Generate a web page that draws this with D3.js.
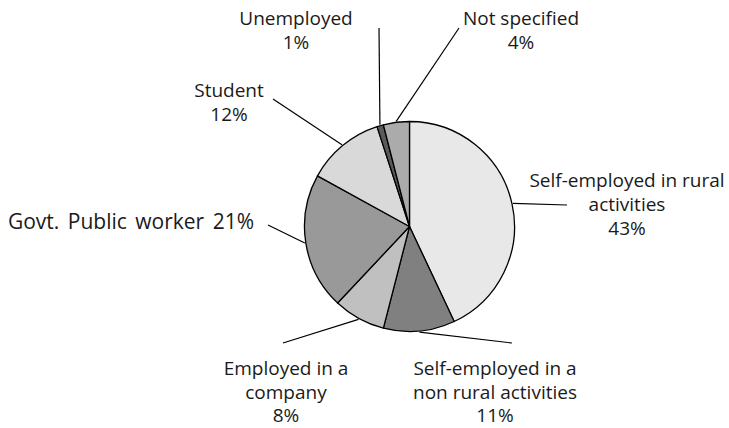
<!DOCTYPE html>
<html>
<head>
<meta charset="utf-8">
<script src="https://cdn.jsdelivr.net/npm/d3@7"></script>
<style>
  html, body { margin: 0; padding: 0; background: #fff; }
  svg text { font-family: 'Open Sans', Lato, sans-serif; fill: #1a1a1a; }
</style>
</head>
<body>
<div id="chart"></div>
<script>
// data, clockwise from 12 o'clock
const categories = ['Self-employed in rural activities', 'Self-employed in a non rural activities', 'Employed in a company', 'Govt. Public worker', 'Student', 'Unemployed', 'Not specified'];
const shares = [43, 11, 8, 21, 12, 1, 4];

// label layout: text lines, text anchor point (first baseline), leader end point
const LAYOUT = [
  { lines: ['Self-employed in rural', 'activities', '43%'], tx: 627, ty: 187, end: [567, 205] },
  { lines: ['Self-employed in a', 'non rural activities', '11%'], tx: 495, ty: 375, end: [512, 343], lh: 23.5 },
  { lines: ['Employed in a', 'company', '8%'], tx: 286, ty: 375, end: [283, 343], lh: 23.5 },
  { lines: ['Govt. Public worker 21%'], tx: 131, ty: 229, end: [268, 225], size: 21, ws: 3 },
  { lines: ['Student', '12%'], tx: 229, ty: 97, end: [273, 99] },
  { lines: ['Unemployed', '1%'], tx: 296, ty: 25, end: [379, 28] },
  { lines: ['Not specified', '4%'], tx: 521, ty: 25, end: [459, 28] }
];
const FILLS = ['#e8e8e8', '#808080', '#c0c0c0', '#999999', '#d9d9d9', '#5a5a5a', '#ababab'];

const W = 729, H = 428, cx = 409.5, cy = 226.5, R = 105;
const svg = d3.select('#chart').append('svg').attr('width', W).attr('height', H);

const rows = categories.map((c, i) => ({ name: c, value: shares[i], i }));
const pie = d3.pie().value(d => d.value).sort(null);
const arcs = pie(rows);
const arc = d3.arc().innerRadius(0).outerRadius(R);

const g = svg.append('g').attr('transform', `translate(${cx},${cy})`);
g.selectAll('path').data(arcs).enter().append('path')
  .attr('d', arc).attr('fill', d => FILLS[d.data.i])
  .attr('stroke', '#000').attr('stroke-width', 1.3).attr('stroke-linejoin', 'round');

// leader lines from slice mid-angle on the rim
svg.append('g').selectAll('line').data(arcs).enter().append('line')
  .attr('x1', d => cx + (R + 1) * Math.sin((d.startAngle + d.endAngle) / 2))
  .attr('y1', d => cy - (R + 1) * Math.cos((d.startAngle + d.endAngle) / 2))
  .attr('x2', d => LAYOUT[d.data.i].end[0]).attr('y2', d => LAYOUT[d.data.i].end[1])
  .attr('stroke', '#000').attr('stroke-width', 1.2);

const lab = svg.append('g').selectAll('text').data(arcs).enter().append('text')
  .attr('text-anchor', 'middle')
  .style('font-size', d => (LAYOUT[d.data.i].size || 19) + 'px')
  .style('word-spacing', d => (LAYOUT[d.data.i].ws || 0) + 'px')
  .attr('x', d => LAYOUT[d.data.i].tx).attr('y', d => LAYOUT[d.data.i].ty);
lab.each(function (d) {
  const L = LAYOUT[d.data.i];
  d3.select(this).selectAll('tspan').data(L.lines).enter().append('tspan')
    .attr('x', L.tx).attr('dy', (t, k) => k === 0 ? 0 : (L.lh || 24)).text(t => t);
});
</script>
</body>
</html>
